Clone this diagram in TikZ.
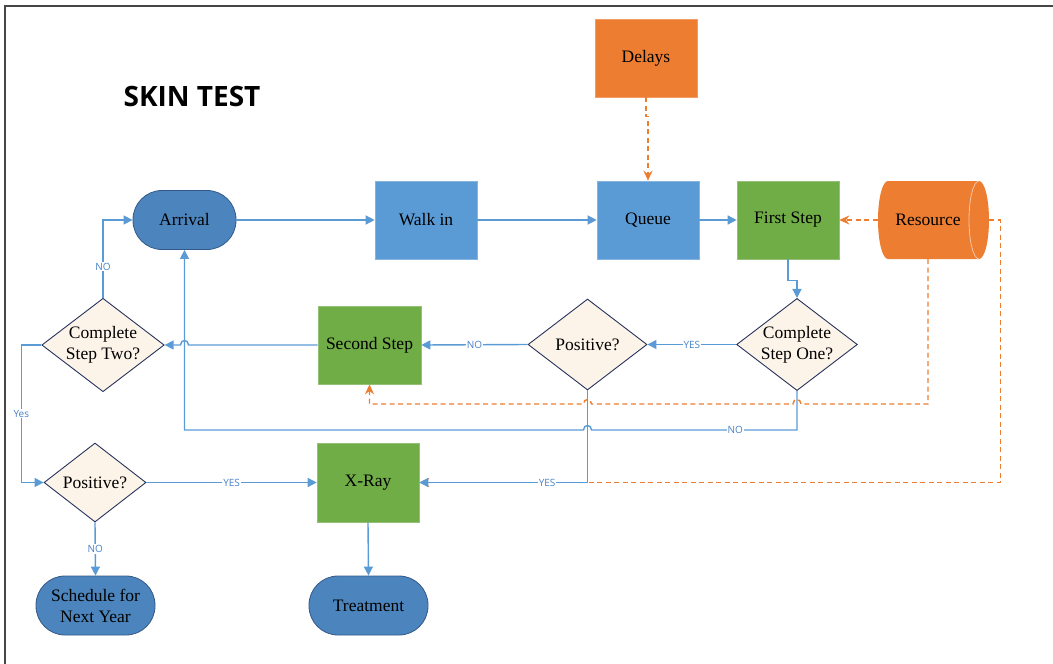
\documentclass[tikz,border=0pt]{standalone}
\usepackage{fontspec}
\setmainfont{Liberation Serif}
\newfontfamily\headfont{Open Sans}
\newfontfamily\tagfont{Open Sans}
\usetikzlibrary{shapes.geometric,arrows.meta,calc}

\definecolor{cline}{RGB}{91,155,213}
\definecolor{cblue}{RGB}{91,155,213}
\definecolor{cterm}{RGB}{76,133,189}
\definecolor{ctermd}{RGB}{50,88,135}
\definecolor{cgreen}{RGB}{112,173,71}
\definecolor{corange}{RGB}{237,125,49}
\definecolor{cdia}{RGB}{253,244,233}
\definecolor{cdiad}{RGB}{38,52,92}
\definecolor{ctag}{RGB}{70,130,200}
\definecolor{cframe}{RGB}{70,70,70}

\begin{document}
\begin{tikzpicture}[x=1pt,y=-1pt,
  txt/.style={font=\fontsize{17.5}{21}\selectfont, align=center, text=black},
  box/.style={txt, rectangle, minimum width=102pt, minimum height=78pt, inner sep=0pt, line width=0.6pt},
  bluebox/.style={box, fill=cblue, draw=cblue!75!white},
  greenbox/.style={box, fill=cgreen, draw=cgreen!75!white},
  orangebox/.style={box, fill=corange, draw=corange!75!white},
  term/.style={txt, rectangle, rounded corners=29pt, minimum width=119pt, minimum height=59pt,
    inner sep=0pt, fill=cterm, draw=ctermd, line width=0.8pt},
  decision/.style={txt, diamond, aspect=1.31, inner sep=0pt, minimum width=119pt, minimum height=91pt,
    fill=cdia, draw=cdiad, line width=0.9pt},
  flow/.style={draw=cline, line width=1.4pt, -{Triangle[length=9pt,width=9pt]}},
  dep/.style={draw=corange, line width=1.4pt, dash pattern=on 5pt off 3.5pt, -{Stealth[length=10pt,width=9pt]}},
  tag/.style={font=\tagfont\fontsize{10}{10}\selectfont, text=ctag, fill=white, inner sep=1pt}]

\useasboundingbox (0,0) rectangle (1053,664);
% page frame
\draw[cframe, line width=1.6pt] (5,6) rectangle (1100,720);

% title
\node[anchor=base, font=\headfont\bfseries\fontsize{28}{30}\selectfont] (title) at (192,106) {SKIN TEST};

% top row
\node[term, minimum width=103pt] (arrival) at (184.5,220) {Arrival};
\node[bluebox] (walk) at (426,220) {Walk in};
\node[bluebox] (queue) at (648,220) {Queue};
\node[orangebox] (delays) at (646,58) {Delays};
\node[greenbox] (first) at (788,220) {First Step};

% resource store (horizontal cylinder)
\fill[corange] (888,181) -- (979,181)
  arc[start angle=90, end angle=-90, x radius=10pt, y radius=39pt]
  -- (888,259)
  arc[start angle=-90, end angle=-270, x radius=10pt, y radius=39pt] -- cycle;
\draw[corange!45!white, line width=0.8pt] (979,181)
  arc[start angle=90, end angle=270, x radius=10pt, y radius=39pt];
\node[txt, rectangle, minimum width=100pt, minimum height=78pt, inner sep=0pt] (res) at (928,220) {Resource};

% middle row
\node[decision] (cso) at (797,344.5) {Complete\\Step One?};
\node[decision] (pmid) at (587.5,344.5) {Positive?};
\node[greenbox, minimum width=103pt] (ss) at (369.5,345) {Second Step};
\node[decision, minimum width=118pt, minimum height=92pt] (cst) at (103,345) {Complete\\Step Two?};

% bottom rows
\node[decision, minimum width=102pt, minimum height=79pt] (pbot) at (95,482.5) {Positive?};
\node[greenbox, minimum height=79pt] (xray) at (368,482.5) {X-Ray};
\node[term] (treat) at (368.5,605.5) {Treatment};
\node[term] (sched) at (95.5,605.5) {Schedule for\\Next Year};

% helper levels for the long return lines
\coordinate (y404) at (0,404);
\coordinate (y430) at (0,430);
\coordinate (h0) at (arrival.south |- ss.west);
\coordinate (h1) at (pmid.south |- y430);
\coordinate (h2) at (cso.south |- y404);
\coordinate (h3) at (pmid.south |- y404);

% resource and delay links
\draw[dep] (delays.south) -- ++(0,19) -| (queue.north);
\draw[dep] (res.west) -- (first.east);
\draw[dep] (res.south) -- (res.south |- y404)
  -- ([xshift=4pt]h2) .. controls +(0,-6) and +(0,-6) .. ([xshift=-4pt]h2)
  -- ([xshift=4pt]h3) .. controls +(0,-6) and +(0,-6) .. ([xshift=-4pt]h3)
  -| (ss.south);
\draw[dep] ([xshift=11pt]res.east) -- ++(11,0) coordinate (c3) -- (c3 |- xray.east) -- (xray.east);

% main flow
\draw[flow] (arrival.east) -- (walk.west);
\draw[flow] (walk.east) -- (queue.west);
\draw[flow] (queue.east) -- (first.west);
\draw[flow] (first.south) -- ++(0,21) -| (cso.north);
\draw[flow] (cso.west) -- node[tag]{YES} (pmid.east);
\draw[flow] (pmid.west) -- node[tag]{NO} (ss.east);
\draw[flow] (ss.west) -- ([xshift=4pt]h0) .. controls +(0,-6) and +(0,-6) .. ([xshift=-4pt]h0) -- (cst.east);
\draw[flow] (cst.north) |- node[tag, pos=0.2]{NO} (arrival.west);
\draw[flow] (cst.west) -- ++(-20,0) coordinate (c1) -- node[tag]{Yes} (c1 |- pbot.west) -- (pbot.west);
\draw[flow] (pbot.east) -- node[tag]{YES} (xray.west);
\draw[flow] (pbot.south) -- node[tag]{NO} (sched.north);
\draw[flow] (xray.south) -- (treat.north);
\draw[flow] (cso.south) -- (cso.south |- y430) -- node[tag, pos=0.3]{NO} ([xshift=4pt]h1)
  .. controls +(0,-6) and +(0,-6) .. ([xshift=-4pt]h1) -| (arrival.south);
\draw[flow] (pmid.south) |- node[tag, pos=0.62]{YES} (xray.east);
\end{tikzpicture}
\end{document}
